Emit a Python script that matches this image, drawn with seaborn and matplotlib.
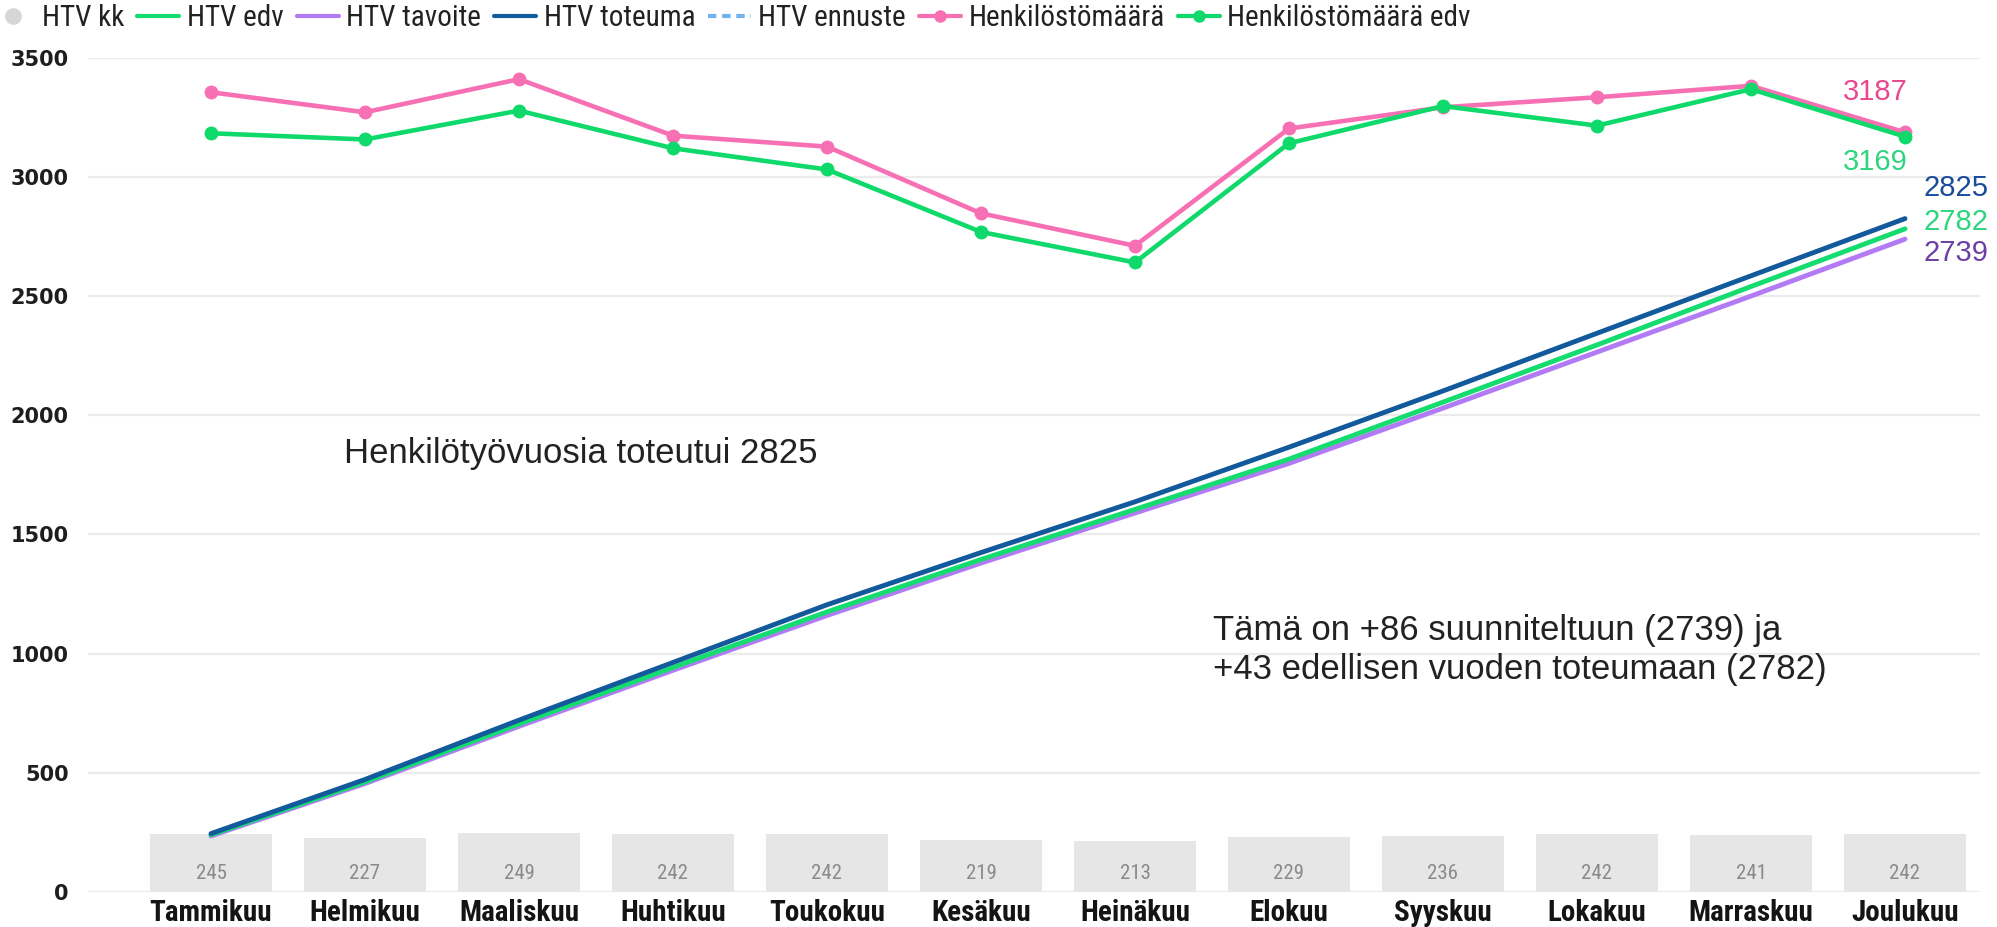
import numpy as np
import pandas as pd
import matplotlib
matplotlib.use("Agg")
import matplotlib.pyplot as plt
from matplotlib import font_manager
from matplotlib.lines import Line2D
import seaborn as sns

# --- data -------------------------------------------------------------
months = ["Tammikuu", "Helmikuu", "Maaliskuu", "Huhtikuu", "Toukokuu", "Kesäkuu",
          "Heinäkuu", "Elokuu", "Syyskuu", "Lokakuu", "Marraskuu", "Joulukuu"]
htv_kk = [245, 227, 249, 242, 242, 219, 213, 229, 236, 242, 241, 242]
htv_toteuma = [245, 472, 721, 963, 1205, 1424, 1637, 1866, 2102, 2344, 2585, 2825]
htv_edv = [240, 462, 705, 942, 1175, 1395, 1605, 1816, 2055, 2295, 2540, 2782]
htv_tavoite = [235, 455, 695, 930, 1160, 1380, 1590, 1798, 2030, 2265, 2500, 2739]
henkilosto = [3355, 3271, 3410, 3173, 3127, 2847, 2711, 3203, 3292, 3334, 3382, 3187]
henkilosto_edv = [3183, 3157, 3278, 3120, 3031, 2769, 2641, 3141, 3297, 3215, 3368, 3169]
y_ticks = [0, 500, 1000, 1500, 2000, 2500, 3000, 3500]

# --- colours ----------------------------------------------------------
C_BAR = "#E6E6E6"
C_EDV = "#14DC6E"
C_TAV = "#B27BF5"
C_TOT = "#125A9C"
C_ENN = "#6CB4F0"
C_PINK = "#F870B4"
C_GREEN = "#0FD96A"

sns.set_theme(style="white")

available = {f.name for f in font_manager.fontManager.ttflist}


def pick(*names):
    for n in names:
        if n in available:
            return n
    return "DejaVu Sans"


narrow = pick("Liberation Sans Narrow", "DejaVu Sans Condensed", "Roboto Condensed", "Liberation Sans")
regular = pick("Liberation Sans", "Arial", "DejaVu Sans")
plt.rcParams["font.family"] = [regular, "DejaVu Sans"]

df = pd.DataFrame({
    "kk": months,
    "pos": np.arange(len(months)),
    "htv_kk": htv_kk,
    "toteuma": htv_toteuma,
    "edv": htv_edv,
    "tavoite": htv_tavoite,
    "henkilosto": henkilosto,
    "henkilosto_edv": henkilosto_edv,
})

W, H = 1997, 927
fig = plt.figure(figsize=(W / 100, H / 100), dpi=100)
ax = fig.add_axes([88 / W, 1 - 892 / H, (1980 - 88) / W, (892 - 57.7) / H])

# monthly bars
sns.barplot(data=df, x="kk", y="htv_kk", order=months, color=C_BAR, saturation=1,
            width=0.79, linewidth=0, ax=ax, zorder=1)
for i, v in enumerate(htv_kk):
    ax.text(i, 78, str(v), ha="center", va="center", fontsize=15,
            family=narrow, color="#8A8A8A", zorder=2)

# cumulative person-years
for col, c in (("tavoite", C_TAV), ("edv", C_EDV), ("toteuma", C_TOT)):
    sns.lineplot(data=df, x="pos", y=col, color=c, lw=3.5, ax=ax, zorder=3,
                 solid_capstyle="round")

# headcount
sns.lineplot(data=df, x="pos", y="henkilosto", color=C_PINK, lw=3.3, marker="o",
             markersize=10, markeredgewidth=0, ax=ax, zorder=4)
sns.lineplot(data=df, x="pos", y="henkilosto_edv", color=C_GREEN, lw=3.3, marker="o",
             markersize=10, markeredgewidth=0, ax=ax, zorder=5)

# axes styling
ax.set_xlim((88 - 211) / 154, (1980 - 211) / 154)
ax.set_ylim(0, 3500)
ax.set_yticks(y_ticks)
ax.set_yticklabels([str(t) for t in y_ticks], fontsize=15, fontweight="bold",
                   family="DejaVu Sans", color="#1E1E1E")
ax.set_xticks(range(len(months)))
ax.set_xticklabels(months, fontsize=21, fontweight="bold", family=narrow, color="#141414")
ax.tick_params(axis="y", length=0, pad=14)
ax.tick_params(axis="x", length=0, pad=5)
ax.set_xlabel("")
ax.set_ylabel("")
ax.grid(axis="y", color="#EBEBEB", lw=1.6, zorder=0)
ax.set_axisbelow(True)
for s in ax.spines.values():
    s.set_visible(False)

# end-of-year value labels
last = len(months) - 1
ax.annotate(str(henkilosto[-1]), (last, henkilosto[-1]), xytext=(2, 29),
            textcoords="offset points", ha="right", va="center", fontsize=21,
            color="#E8488F", family=regular)
ax.annotate(str(henkilosto_edv[-1]), (last, henkilosto_edv[-1]), xytext=(2, -18),
            textcoords="offset points", ha="right", va="center", fontsize=21,
            color="#2ED47E", family=regular)
ax.annotate(str(htv_toteuma[-1]), (last, htv_toteuma[-1]), xytext=(13, 22),
            textcoords="offset points", ha="left", va="center", fontsize=21,
            color="#1A4C9C", family=regular, annotation_clip=False)
ax.annotate(str(htv_edv[-1]), (last, htv_edv[-1]), xytext=(13, 5),
            textcoords="offset points", ha="left", va="center", fontsize=21,
            color="#2ED47E", family=regular, annotation_clip=False)
ax.annotate(str(htv_tavoite[-1]), (last, htv_tavoite[-1]), xytext=(13, -10),
            textcoords="offset points", ha="left", va="center", fontsize=21,
            color="#6B3FA3", family=regular, annotation_clip=False)

# commentary
total = htv_toteuma[-1]
fig.text(344 / W, 1 - 454 / H, f"Henkilötyövuosia toteutui {total}", fontsize=25,
         ha="left", va="center", color="#222222", family=regular)
fig.text(1213 / W, 1 - 650 / H,
         f"Tämä on +{total - htv_tavoite[-1]} suunniteltuun ({htv_tavoite[-1]}) ja\n"
         f"+{total - htv_edv[-1]} edellisen vuoden toteumaan ({htv_edv[-1]})",
         fontsize=25, ha="left", va="center", color="#222222", family=regular,
         linespacing=1.25)

# legend
handles = [
    Line2D([], [], marker="o", color="#D6D6D6", linestyle="none", markersize=11),
    Line2D([], [], color=C_EDV, lw=3),
    Line2D([], [], color=C_TAV, lw=3),
    Line2D([], [], color=C_TOT, lw=3),
    Line2D([], [], color=C_ENN, lw=3, linestyle=(0, (2, 1.4))),
    Line2D([], [], color=C_PINK, lw=3, marker="o", markersize=9, markeredgewidth=0),
    Line2D([], [], color=C_GREEN, lw=3, marker="o", markersize=9, markeredgewidth=0),
]
labels = ["HTV kk", "HTV edv", "HTV tavoite", "HTV toteuma", "HTV ennuste",
          "Henkilöstömäärä", "Henkilöstömäärä edv"]
fig.legend(handles, labels, loc="center left", bbox_to_anchor=(-0.004, 1 - 18 / H),
           ncol=7, frameon=False, handlelength=1.45, handletextpad=0.25,
           columnspacing=0.45, borderaxespad=0, borderpad=0,
           prop={"family": narrow, "size": 21}, labelcolor="#222222")

fig.savefig("out.png", dpi=100)
